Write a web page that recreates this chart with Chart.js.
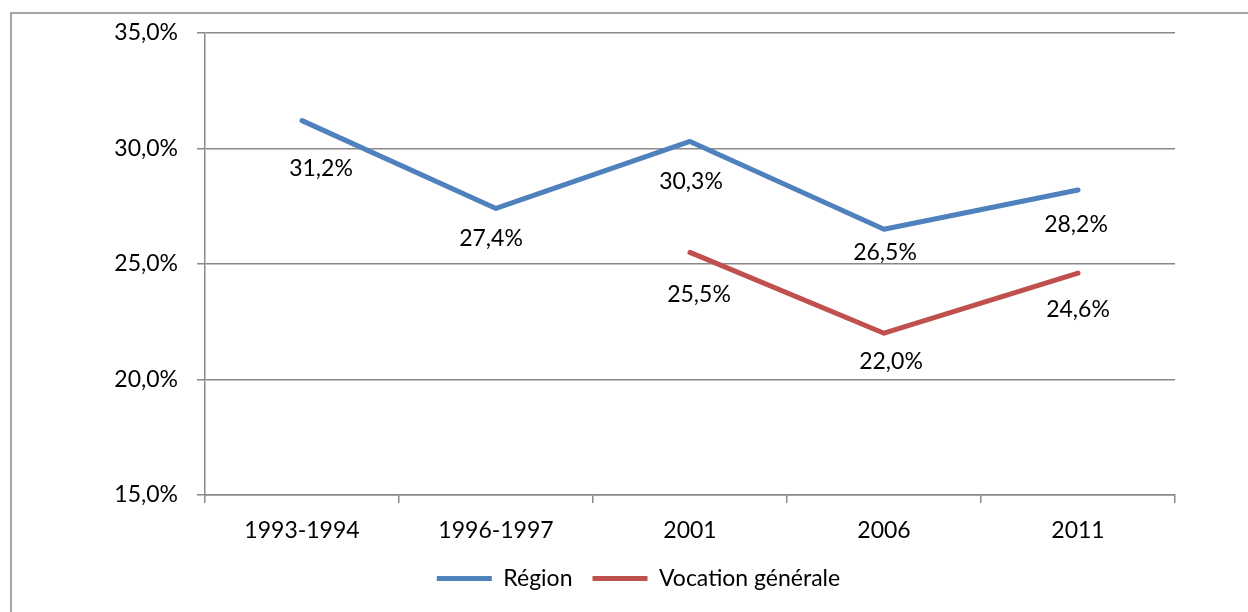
<!DOCTYPE html>
<html>
<head>
<meta charset="utf-8">
<script src="https://cdn.jsdelivr.net/npm/chart.js@4/dist/chart.umd.min.js"></script>
<style>
  html, body { margin: 0; padding: 0; background: #fff; }
  #wrap { width: 1248px; height: 612px; position: relative; }
</style>
</head>
<body>
<div id="wrap"><canvas id="lineChart" width="1248" height="612"></canvas></div>
<script>
// categories and values (percent)
var periods = ['1993-1994', '1996-1997', '2001', '2006', '2011'];
var regionValues = [31.2, 27.4, 30.3, 26.5, 28.2];
var vocationValues = [null, null, 25.5, 22.0, 24.6];
var yTicks = [15, 20, 25, 30, 35];

// hand placed label offsets, as in the original (pixels from the point)
var labelOffsets = [
    [[19, 48], [-5, 30], [1, 40], [1, 23], [-2, 35]],
    [null, null, [9, 42], [7, 28], [0, 36]]
];

var FONT = 'Lato, "Open Sans", sans-serif';
var GRAY = '#898989';

function fmt(v) {
    return v.toFixed(1).replace('.', ',') + '%';
}

// outer frame of the chart object
var framePlugin = {
    id: 'frame',
    beforeDraw: function (chart) {
        var ctx = chart.ctx;
        ctx.save();
        ctx.strokeStyle = GRAY;
        ctx.lineWidth = 1.5;
        ctx.beginPath();
        ctx.moveTo(11, chart.height);
        ctx.lineTo(11, 13);
        ctx.lineTo(chart.width, 13);
        ctx.stroke();
        ctx.restore();
    }
};

// value labels under the points
var valueLabels = {
    id: 'valueLabels',
    afterDatasetsDraw: function (chart) {
        var ctx = chart.ctx;
        ctx.save();
        ctx.font = '23px ' + FONT;
        ctx.fillStyle = '#000';
        ctx.textAlign = 'center';
        ctx.textBaseline = 'middle';
        chart.data.datasets.forEach(function (ds, di) {
            var meta = chart.getDatasetMeta(di);
            meta.data.forEach(function (pt, i) {
                var v = ds.data[i];
                if (v === null) return;
                var off = labelOffsets[di][i] || [0, 30];
                ctx.fillText(fmt(v), pt.x + off[0], pt.y + off[1]);
            });
        });
        ctx.restore();
    }
};

var ctx = document.getElementById('lineChart').getContext('2d');
var chart = new Chart(ctx, {
    type: 'line',
    data: {
        labels: periods,
        datasets: [
            {
                label: 'Région',
                data: regionValues,
                borderColor: '#4F81BD',
                backgroundColor: '#4F81BD',
                borderWidth: 5,
                borderCapStyle: 'round',
                borderJoinStyle: 'round',
                pointRadius: 0,
                tension: 0
            },
            {
                label: 'Vocation générale',
                data: vocationValues,
                borderColor: '#C0504D',
                backgroundColor: '#C0504D',
                borderWidth: 5,
                borderCapStyle: 'round',
                borderJoinStyle: 'round',
                pointRadius: 0,
                tension: 0
            }
        ]
    },
    options: {
        responsive: false,
        animation: false,
        devicePixelRatio: 1,
        layout: {
            padding: { left: 102, right: 73, top: 32, bottom: 12 }
        },
        plugins: {
            legend: {
                position: 'bottom',
                labels: {
                    usePointStyle: true,
                    pointStyle: 'line',
                    pointStyleWidth: 55,
                    color: '#000',
                    padding: 20,
                    font: { family: FONT, size: 23 }
                }
            },
            tooltip: { enabled: false }
        },
        scales: {
            x: {
                offset: true,
                grid: {
                    offset: true,
                    drawOnChartArea: false,
                    drawTicks: true,
                    tickLength: 8,
                    color: GRAY,
                    lineWidth: 1.5
                },
                border: { color: GRAY, width: 1.5 },
                ticks: {
                    color: '#000',
                    padding: 14,
                    maxRotation: 0,
                    font: { family: FONT, size: 23 }
                },
                afterFit: function (scale) { scale.height = 52; }
            },
            y: {
                min: 15,
                max: 35,
                afterBuildTicks: function (scale) {
                    scale.ticks = yTicks.map(function (v) { return { value: v }; });
                },
                grid: {
                    color: GRAY,
                    lineWidth: 1.5,
                    tickLength: 8
                },
                border: { color: GRAY, width: 1.5 },
                ticks: {
                    color: '#000',
                    padding: 19,
                    font: { family: FONT, size: 23 },
                    callback: function (v) { return fmt(v); }
                },
                afterFit: function (scale) { scale.width = 103; }
            }
        }
    },
    plugins: [framePlugin, valueLabels]
});
</script>
</body>
</html>
